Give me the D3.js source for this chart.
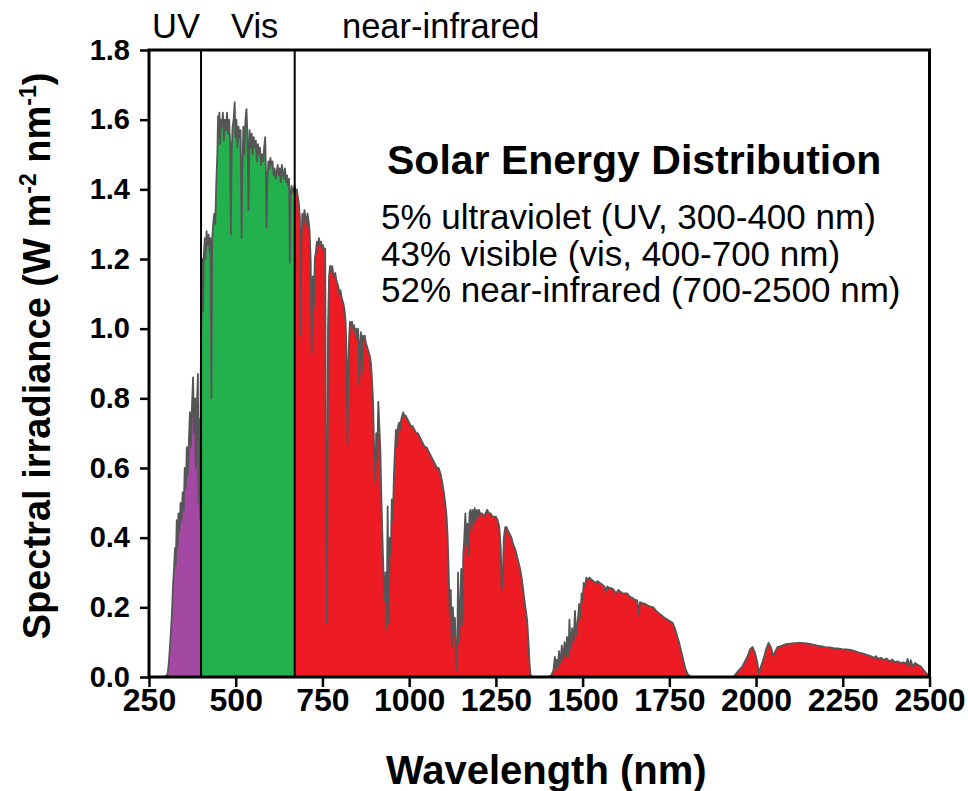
<!DOCTYPE html>
<html>
<head>
<meta charset="utf-8">
<script src="https://cdn.jsdelivr.net/npm/d3@7"></script>
<style>
  body { margin: 0; background: #fff; }
  svg { display: block; font-family: "Liberation Sans", Arial, Helvetica, sans-serif; }
</style>
</head>
<body>
<svg id="chart" width="968" height="791"></svg>
<script>
// spectrum: [wavelength nm, irradiance W m-2 nm-1]
const spectrum = [
  [250,0],[280,0],[290,0],[300,0.003],[304,0.01],[307,0.04],[310,0.08],[313,0.13],[316,0.18],[319,0.26],
  [322,0.31],[325,0.37],[327,0.32],[330,0.45],[332,0.37],[335,0.47],[338,0.42],[341,0.5],[344,0.45],[347,0.53],
  [350,0.48],[353,0.6],[356,0.54],[359,0.66],[362,0.58],[365,0.68],[368,0.76],[371,0.66],[374,0.78],[377,0.86],
  [380,0.7],[383,0.8],[385,0.6],[388,0.78],[391,0.87],[393,0.5],[395,0.74],[397,0.45],[399,0.86],[400,0.95],
  // visible
  [401,1.0],[403,1.2],[405,1.15],[406,1.05],[408,1.21],[411,1.26],[413,1.2],[416,1.28],[419,1.24],[422,1.27],
  [425,1.22],[427,1.26],[430,0.8],[432,1.25],[435,1.3],[438,1.33],[441,1.3],[444,1.42],[447,1.5],[449,1.61],
  [451,1.55],[453,1.62],[455,1.53],[457,1.6],[460,1.58],[463,1.62],[466,1.54],[469,1.6],[472,1.57],[475,1.62],
  [478,1.56],[481,1.6],[484,1.53],[486,1.27],[488,1.5],[491,1.58],[494,1.6],[497,1.65],[499,1.55],[502,1.6],
  [505,1.52],[508,1.58],[511,1.55],[514,1.57],[517,1.26],[519,1.45],[522,1.58],[525,1.5],[528,1.6],[531,1.63],
  [534,1.55],[537,1.34],[540,1.57],[543,1.52],[546,1.56],[549,1.5],[552,1.55],[555,1.52],[558,1.54],[561,1.48],
  [564,1.53],[567,1.5],[570,1.52],[573,1.47],[576,1.5],[579,1.48],[582,1.52],[585,1.55],[587,1.45],[589,1.29],
  [591,1.42],[594,1.48],[597,1.46],[600,1.49],[603,1.47],[606,1.48],[609,1.44],[612,1.46],[615,1.43],[618,1.45],
  [621,1.47],[624,1.44],[627,1.46],[630,1.42],[633,1.47],[636,1.45],[639,1.43],[642,1.46],[645,1.42],[648,1.44],
  [651,1.41],[654,1.43],[656,1.19],[658,1.38],[661,1.41],[664,1.39],[667,1.4],[670,1.41],
  // near-infrared
  [673,1.39],[676,1.4],[679,1.38],[682,1.36],[685,1.32],[687,0.98],[689,1.25],[692,1.33],[695,1.3],[698,1.34],
  [701,1.32],[704,1.3],[707,1.33],[710,1.31],[713,1.28],[716,1.2],[719,0.93],[722,1.15],[725,1.06],[728,1.2],
  [731,1.22],[734,1.25],[737,1.24],[740,1.26],[743,1.24],[746,1.25],[749,1.23],[752,1.24],[755,1.22],[758,1.23],
  [760,0.6],[762,0.155],[764,0.4],[766,1.0],[769,1.15],[772,1.18],[775,1.17],[778,1.18],[781,1.16],[784,1.15],
  [787,1.16],[790,1.14],[793,1.13],[796,1.12],[799,1.1],[802,1.11],[805,1.09],[808,1.08],[811,1.07],[814,1.05],
  [817,1.02],[820,0.9],[822,0.67],[824,0.85],[826,0.95],[829,1.02],[832,1.01],[835,1.02],[838,1.0],[841,1.01],
  [844,0.99],[847,1.0],[850,0.97],[853,1.0],[856,0.84],[858,0.95],[861,0.99],[864,0.87],[866,0.98],[869,0.97],
  [872,0.98],[875,0.96],[878,0.95],[881,0.94],[884,0.93],[887,0.92],[890,0.9],[893,0.85],[896,0.79],[899,0.65],
  [902,0.56],[905,0.7],[908,0.62],[911,0.79],[914,0.72],[917,0.65],[920,0.51],[923,0.4],[926,0.3],[929,0.22],
  [932,0.3],[935,0.14],[938,0.49],[941,0.155],[944,0.4],[947,0.35],[950,0.51],[953,0.45],[956,0.58],[959,0.65],
  [962,0.71],[965,0.66],[968,0.72],[971,0.73],[974,0.71],[977,0.74],[980,0.75],[983,0.76],[986,0.75],[990,0.75],
  [995,0.74],[1000,0.73],[1005,0.72],[1010,0.72],[1015,0.71],[1020,0.7],[1025,0.7],[1030,0.69],[1035,0.68],[1040,0.67],
  [1045,0.66],[1050,0.66],[1055,0.65],[1060,0.64],[1065,0.63],[1070,0.62],[1075,0.61],[1080,0.6],[1085,0.6],[1090,0.585],
  [1095,0.56],[1100,0.53],[1104,0.5],[1108,0.46],[1111,0.4],[1114,0.3],[1117,0.18],[1120,0.25],[1123,0.086],[1126,0.2],
  [1129,0.12],[1132,0.17],[1135,0.05],[1138,0.02],[1141,0.3],[1144,0.1],[1147,0.2],[1150,0.31],[1153,0.15],[1156,0.35],
  [1159,0.4],[1162,0.47],[1165,0.38],[1168,0.44],[1171,0.35],[1174,0.47],[1177,0.48],[1180,0.42],[1183,0.48],[1186,0.44],
  [1189,0.485],[1192,0.45],[1195,0.48],[1198,0.46],[1201,0.48],[1204,0.47],[1210,0.47],[1215,0.46],[1220,0.47],[1225,0.48],
  [1230,0.47],[1235,0.47],[1240,0.46],[1245,0.46],[1250,0.46],[1255,0.45],[1260,0.43],[1264,0.37],[1267,0.25],[1270,0.3],
  [1273,0.4],[1277,0.43],[1281,0.43],[1285,0.42],[1290,0.41],[1295,0.4],[1300,0.38],[1305,0.37],[1310,0.35],[1315,0.33],
  [1320,0.31],[1325,0.28],[1330,0.24],[1335,0.2],[1340,0.165],[1344,0.1],[1347,0.04],[1350,0.005],[1355,0],[1400,0],
  [1410,0.005],[1416,0.02],[1420,0.058],[1423,0.02],[1426,0.05],[1429,0.03],[1432,0.074],[1436,0.04],[1440,0.09],[1444,0.05],
  [1448,0.1],[1452,0.06],[1455,0.115],[1459,0.06],[1462,0.165],[1466,0.08],[1470,0.14],[1474,0.1],[1478,0.19],[1482,0.12],
  [1486,0.16],[1490,0.21],[1494,0.17],[1497,0.24],[1500,0.22],[1503,0.27],[1507,0.26],[1511,0.285],[1515,0.28],[1520,0.285],
  [1525,0.28],[1531,0.275],[1537,0.27],[1543,0.275],[1550,0.27],[1557,0.265],[1563,0.26],[1567,0.245],[1571,0.26],[1578,0.255],
  [1584,0.255],[1590,0.25],[1596,0.24],[1603,0.25],[1609,0.245],[1615,0.24],[1622,0.24],[1629,0.24],[1636,0.23],[1643,0.228],
  [1650,0.222],[1657,0.22],[1662,0.18],[1665,0.215],[1672,0.212],[1680,0.21],[1688,0.205],[1696,0.202],[1704,0.2],[1712,0.19],
  [1720,0.183],[1728,0.177],[1736,0.17],[1744,0.165],[1752,0.16],[1760,0.155],[1766,0.14],[1772,0.12],[1778,0.1],[1784,0.075],
  [1790,0.05],[1796,0.025],[1803,0.008],[1812,0],[1935,0],[1946,0.014],[1960,0.03],[1975,0.058],[1983,0.08],[1990,0.086],
  [1997,0.07],[2004,0.04],[2008,0.01],[2014,0.03],[2021,0.05],[2029,0.08],[2036,0.098],[2043,0.085],[2050,0.06],[2056,0.075],
  [2062,0.086],[2070,0.088],[2079,0.092],[2090,0.095],[2100,0.096],[2110,0.097],[2125,0.098],[2140,0.097],[2150,0.096],[2165,0.093],
  [2177,0.09],[2190,0.088],[2200,0.086],[2212,0.085],[2224,0.083],[2235,0.082],[2248,0.08],[2260,0.079],[2272,0.078],[2285,0.074],
  [2297,0.07],[2309,0.067],[2321,0.063],[2330,0.06],[2340,0.055],[2345,0.06],[2352,0.052],[2360,0.055],[2368,0.049],[2376,0.053],
  [2385,0.045],[2393,0.05],[2400,0.043],[2408,0.045],[2417,0.04],[2425,0.042],[2432,0.038],[2437,0.052],[2441,0.03],[2446,0.048],
  [2452,0.03],[2458,0.04],[2466,0.035],[2475,0.03],[2483,0.02],[2490,0.012],[2497,0.005],[2500,0]
];

// band split points (nm) and their names
const bandEdges = [250, 400, 670, 2500];
const bandNames = ["UV", "Vis", "near-infrared"];

const xTicks = [250, 500, 750, 1000, 1250, 1500, 1750, 2000, 2250, 2500];
const yTicks = [0, 0.2, 0.4, 0.6, 0.8, 1.0, 1.2, 1.4, 1.6, 1.8];

const summaryTitle = "Solar Energy Distribution";
const summaryLines = [
  "5% ultraviolet (UV, 300-400 nm)",
  "43% visible (vis, 400-700 nm)",
  "52% near-infrared (700-2500 nm)"
];

const bandColors = ["#a349a4", "#22b14c", "#ed1c24"];

const svg = d3.select("#chart");
const plotLeft = 149, plotRight = 929.5, plotTop = 50, plotBottom = 677;

const x = d3.scaleLinear().domain([250, 2500]).range([plotLeft, plotRight]);
const y = d3.scaleLinear().domain([0, 1.8]).range([plotBottom, plotTop]);

const defs = svg.append("defs");

// one clip per band so each piece of the area gets its own colour
bandNames.forEach((name, i) => {
  defs.append("clipPath").attr("id", "band" + i)
    .append("rect")
    .attr("x", x(bandEdges[i]))
    .attr("y", plotTop)
    .attr("width", x(bandEdges[i + 1]) - x(bandEdges[i]))
    .attr("height", plotBottom - plotTop);
});

const area = d3.area()
  .x(d => x(d[0]))
  .y0(y(0))
  .y1(d => y(d[1]));

const line = d3.line()
  .x(d => x(d[0]))
  .y(d => y(d[1]));

bandNames.forEach((name, i) => {
  svg.append("path")
    .datum(spectrum)
    .attr("clip-path", `url(#band${i})`)
    .attr("fill", bandColors[i])
    .attr("d", area);
});

svg.append("path")
  .datum(spectrum)
  .attr("fill", "none")
  .attr("stroke", "#555")
  .attr("stroke-width", 1.8)
  .attr("stroke-linejoin", "round")
  .attr("d", line);

// band separators
svg.selectAll("line.sep")
  .data(bandEdges.slice(1, -1))
  .join("line")
  .attr("class", "sep")
  .attr("x1", d => x(d)).attr("x2", d => x(d))
  .attr("y1", plotTop).attr("y2", plotBottom)
  .attr("stroke", "#000")
  .attr("stroke-width", 2);

// band labels above the frame
const labelX = [152, 231, 342];
svg.selectAll("text.band")
  .data(bandNames)
  .join("text")
  .attr("class", "band")
  .attr("x", (d, i) => labelX[i])
  .attr("y", 38)
  .attr("font-size", 34.5)
  .attr("fill", "#000")
  .text(d => d);

// axes
const gy = svg.append("g")
  .attr("transform", `translate(${plotLeft},0)`)
  .call(d3.axisLeft(y).tickValues(yTicks).tickSize(9).tickPadding(10).tickFormat(d3.format(".1f")));
gy.select(".domain").remove();
gy.selectAll(".tick line").attr("stroke", "#000").attr("stroke-width", 2.5);
gy.selectAll(".tick text")
  .attr("font-family", "Liberation Sans, Arial, sans-serif")
  .attr("font-weight", "bold").attr("font-size", 29).attr("fill", "#000");

const gx = svg.append("g")
  .attr("transform", `translate(0,${plotBottom})`)
  .call(d3.axisBottom(x).tickValues(xTicks).tickSize(10).tickPadding(1).tickFormat(d3.format("d")));
gx.select(".domain").remove();
gx.selectAll(".tick line").attr("stroke", "#000").attr("stroke-width", 2.5);
gx.selectAll(".tick text")
  .attr("font-family", "Liberation Sans, Arial, sans-serif")
  .attr("font-weight", "bold").attr("font-size", 32).attr("fill", "#000");

// frame
svg.append("rect")
  .attr("x", plotLeft).attr("y", plotTop)
  .attr("width", plotRight - plotLeft).attr("height", plotBottom - plotTop)
  .attr("fill", "none")
  .attr("stroke", "#000")
  .attr("stroke-width", 3);

// axis titles
svg.append("text")
  .attr("x", (plotLeft + plotRight) / 2 + 7)
  .attr("y", 784)
  .attr("text-anchor", "middle")
  .attr("font-weight", "bold")
  .attr("font-size", 40)
  .text("Wavelength (nm)");

const yt = svg.append("text")
  .attr("transform", "translate(50,356) rotate(-90)")
  .attr("text-anchor", "middle")
  .attr("font-weight", "bold")
  .attr("font-size", 38);
yt.append("tspan").text("Spectral irradiance (W m");
yt.append("tspan").attr("dy", -14).attr("font-size", 23).text("-2");
yt.append("tspan").attr("dy", 14).text(" nm");
yt.append("tspan").attr("dy", -14).attr("font-size", 23).text("-1");
yt.append("tspan").attr("dy", 14).text(")");

// summary block
svg.append("text")
  .attr("x", 387).attr("y", 174)
  .attr("font-weight", "bold")
  .attr("font-size", 41)
  .text(summaryTitle);

svg.selectAll("text.summary")
  .data(summaryLines)
  .join("text")
  .attr("class", "summary")
  .attr("x", 381)
  .attr("y", (d, i) => 229 + i * 36.5)
  .attr("font-size", 35)
  .text(d => d);
</script>
</body>
</html>
